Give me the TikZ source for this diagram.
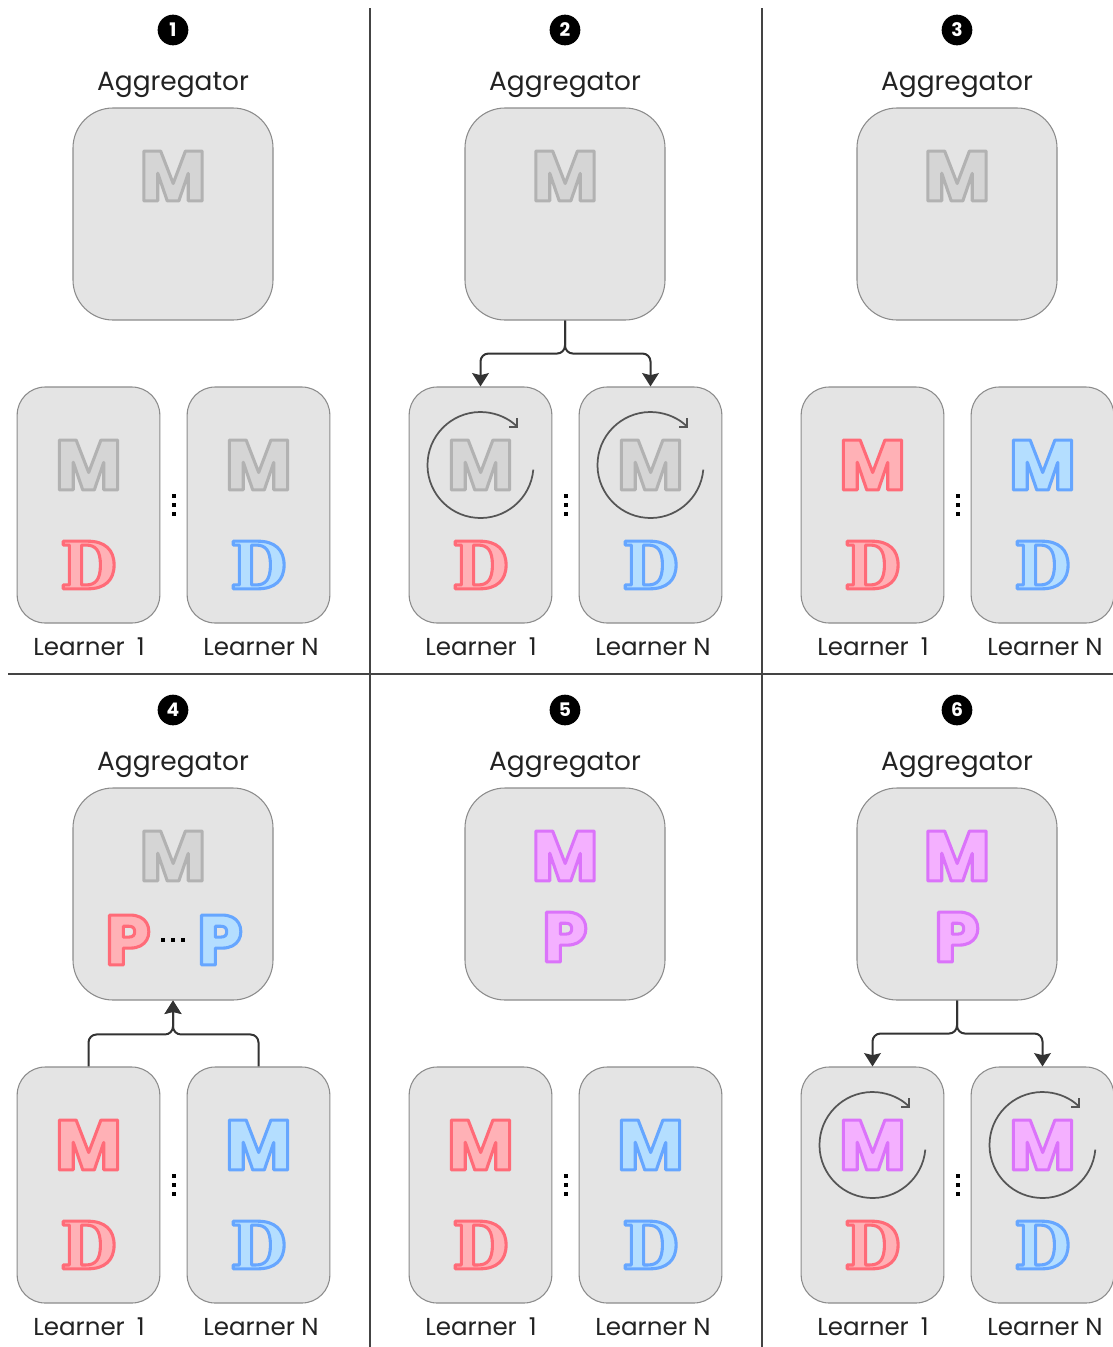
\documentclass[tikz,border=0pt]{standalone}
\usepackage{fontspec}
\setmainfont{Poppins}
\IfFontExistsTF{Poppins ExtraBold}
  {\newfontfamily\mfont{Poppins ExtraBold}}
  {\IfFontExistsTF{Poppins Bold}
    {\newfontfamily\mfont{Poppins Bold}}
    {\newfontfamily\mfont{DejaVu Sans}[UprightFont=*/B]}}
\IfFontExistsTF{Poppins Bold}
  {\newfontfamily\nfont{Poppins Bold}}
  {\newfontfamily\nfont{DejaVu Sans}[UprightFont=*/B]}
\IfFontExistsTF{DejaVu Serif Bold}
  {\newfontfamily\dfont{DejaVu Serif Bold}}
  {\newfontfamily\dfont{DejaVu Serif}[UprightFont=*/B]}
\usetikzlibrary{arrows.meta}

\definecolor{boxfill}{HTML}{E4E4E4}
\definecolor{boxline}{HTML}{8C8C8C}
\definecolor{txt}{HTML}{222222}
\definecolor{divc}{HTML}{444444}
\definecolor{arrowc}{HTML}{333333}
\definecolor{rotc}{HTML}{555555}
\definecolor{grayF}{HTML}{D5D5D5}
\definecolor{redF}{HTML}{FFB1B6}
\definecolor{blueF}{HTML}{B4DEFF}
\definecolor{purF}{HTML}{F4B0FF}
% stroke colours as PDF RG operands
\def\graySrg{0.70 0.70 0.70}
\def\redSrg{1.00 0.42 0.47}
\def\blueSrg{0.40 0.65 1.00}
\def\purSrg{0.86 0.45 0.98}

% outlined letter: fill + stroke text render mode
\newcommand\olet[2]{{\color{#1F}\special{pdf:literal direct 2 Tr 2.3 w 1 j \csname #1Srg\endcsname\space RG}#2\special{pdf:literal direct 0 Tr}}}

\tikzset{
  aggbox/.style={draw=boxline, fill=boxfill, line width=0.8pt, rounded corners=30pt,
    minimum width=150pt, minimum height=159pt, inner sep=0pt},
  lbox/.style={draw=boxline, fill=boxfill, line width=0.8pt, rounded corners=21pt,
    minimum width=107pt, minimum height=177pt, inner sep=0pt},
  title/.style={font=\fontsize{19.8}{20}\selectfont, text=txt, inner sep=0pt, anchor=base},
  lbl/.style={font=\fontsize{18.4}{19}\selectfont, text=txt, inner sep=0pt, anchor=base},
  numc/.style={circle, fill=black, minimum size=23pt, inner sep=0pt, text=white,
    font=\nfont\fontsize{14}{14}\selectfont},
  mletter/.style={font=\mfont\fontsize{53}{53}\selectfont, inner sep=0pt},
  dletter/.style={font=\dfont\fontsize{49}{49}\selectfont, inner sep=0pt},
  flow/.style={draw=arrowc, line width=1.5pt, rounded corners=6pt,
    -{Stealth[length=10pt,width=12.5pt,inset=1.5pt]}},
  rot/.style={draw=rotc, line width=1.3pt, -{Straight Barb[length=4.5pt,width=9pt]}},
  divider/.style={draw=divc, line width=1.5pt},
  dotc/.style={fill=black},
}

\newcommand\panelframe[2]{%
  \node[numc] (n#1) at (173,30) {#2};
  \node[title] (t#1) at (173,90) {Aggregator};
  \node[aggbox] (a#1) at (173,214) {};
  \node[lbox] (la#1) at (88.5,505) {};
  \node[lbox] (lb#1) at (258.5,505) {};
  \node[lbl] (ta#1) at (89,655) {Learner\kern9pt 1};
  \node[lbl] (tb#1) at (261,655) {Learner N};
  \fill[dotc] (171.5,494) rectangle +(4,4);
  \fill[dotc] (171.5,503) rectangle +(4,4);
  \fill[dotc] (171.5,512) rectangle +(4,4);
}
\newcommand\rotarc[1]{%
  \draw[rot] ([shift={(-5:39.75pt)}]#1) arc[start angle=-5, end angle=-315, radius=39.75pt];
}

\begin{document}
\begin{tikzpicture}[x=0.75pt, y=-0.75pt]
\useasboundingbox[fill=white] (0,0) rectangle (1113,1347);

% dividers
\draw[divider] (370,8) -- (370,1347);
\draw[divider] (762,8) -- (762,1347);
\draw[divider] (8,674) -- (1113,674);

% ---------- panel 1
\begin{scope}
  \panelframe{1}{1}
  \node[mletter] (am1) at (173,176) {\olet{gray}{M}};
  \node[mletter] (lam1) at (88.5,465) {\olet{gray}{M}};
  \node[mletter] (lbm1) at (258.5,465) {\olet{gray}{M}};
  \node[dletter] (lad1) at (88.5,565) {\olet{red}{D}};
  \node[dletter] (lbd1) at (258.5,565) {\olet{blue}{D}};
\end{scope}

% ---------- panel 2
\begin{scope}[shift={(392,0)}]
  \panelframe{2}{2}
  \node[mletter] (am2) at (173,176) {\olet{gray}{M}};
  \node[mletter] (lam2) at (88.5,465) {\olet{gray}{M}};
  \node[mletter] (lbm2) at (258.5,465) {\olet{gray}{M}};
  \node[dletter] (lad2) at (88.5,565) {\olet{red}{D}};
  \node[dletter] (lbd2) at (258.5,565) {\olet{blue}{D}};
  \coordinate (ca2) at (88.5,465);
  \coordinate (cb2) at (258.5,465);
  \rotarc{ca2}
  \rotarc{cb2}
  \draw[flow] (a2.south) -- ++(0,33) -| (la2.north);
  \draw[flow] (a2.south) -- ++(0,33) -| (lb2.north);
\end{scope}

% ---------- panel 3
\begin{scope}[shift={(784,0)}]
  \panelframe{3}{3}
  \node[mletter] (am3) at (173,176) {\olet{gray}{M}};
  \node[mletter] (lam3) at (88.5,465) {\olet{red}{M}};
  \node[mletter] (lbm3) at (258.5,465) {\olet{blue}{M}};
  \node[dletter] (lad3) at (88.5,565) {\olet{red}{D}};
  \node[dletter] (lbd3) at (258.5,565) {\olet{blue}{D}};
\end{scope}

% ---------- panel 4
\begin{scope}[shift={(0,680)}]
  \panelframe{4}{4}
  \node[mletter] (am4) at (173,176) {\olet{gray}{M}};
  \node[mletter] (ap4a) at (128,260) {\olet{red}{P}};
  \node[mletter] (ap4b) at (220,260) {\olet{blue}{P}};
  \fill[dotc] (161,258) rectangle +(4,4);
  \fill[dotc] (171,258) rectangle +(4,4);
  \fill[dotc] (181,258) rectangle +(4,4);
  \node[mletter] (lam4) at (88.5,465) {\olet{red}{M}};
  \node[mletter] (lbm4) at (258.5,465) {\olet{blue}{M}};
  \node[dletter] (lad4) at (88.5,565) {\olet{red}{D}};
  \node[dletter] (lbd4) at (258.5,565) {\olet{blue}{D}};
  \draw[flow] (la4.north) -- ++(0,-32) -| (a4.south);
  \draw[flow] (lb4.north) -- ++(0,-32) -| (a4.south);
\end{scope}

% ---------- panel 5
\begin{scope}[shift={(392,680)}]
  \panelframe{5}{5}
  \node[mletter] (am5) at (173,176) {\olet{pur}{M}};
  \node[mletter] (ap5) at (173,257) {\olet{pur}{P}};
  \node[mletter] (lam5) at (88.5,465) {\olet{red}{M}};
  \node[mletter] (lbm5) at (258.5,465) {\olet{blue}{M}};
  \node[dletter] (lad5) at (88.5,565) {\olet{red}{D}};
  \node[dletter] (lbd5) at (258.5,565) {\olet{blue}{D}};
\end{scope}

% ---------- panel 6
\begin{scope}[shift={(784,680)}]
  \panelframe{6}{6}
  \node[mletter] (am6) at (173,176) {\olet{pur}{M}};
  \node[mletter] (ap6) at (173,257) {\olet{pur}{P}};
  \node[mletter] (lam6) at (88.5,465) {\olet{pur}{M}};
  \node[mletter] (lbm6) at (258.5,465) {\olet{pur}{M}};
  \node[dletter] (lad6) at (88.5,565) {\olet{red}{D}};
  \node[dletter] (lbd6) at (258.5,565) {\olet{blue}{D}};
  \coordinate (ca6) at (88.5,465);
  \coordinate (cb6) at (258.5,465);
  \rotarc{ca6}
  \rotarc{cb6}
  \draw[flow] (a6.south) -- ++(0,33) -| (la6.north);
  \draw[flow] (a6.south) -- ++(0,33) -| (lb6.north);
\end{scope}
\end{tikzpicture}
\end{document}
